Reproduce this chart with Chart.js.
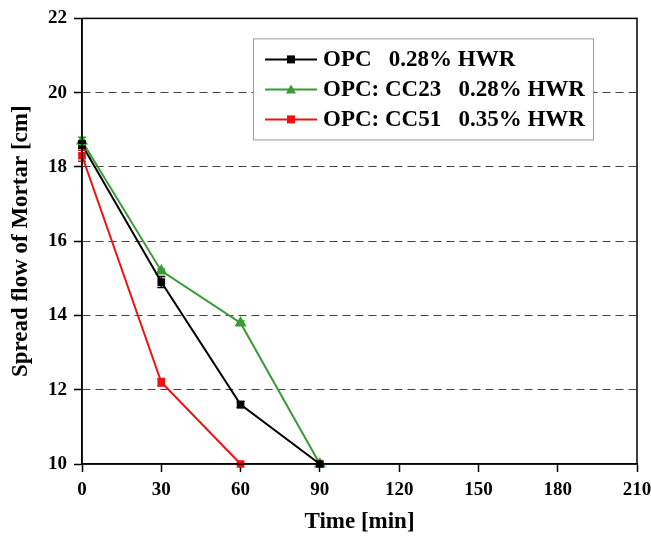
<!DOCTYPE html>
<html>
<head>
<meta charset="utf-8">
<script src="https://cdn.jsdelivr.net/npm/chart.js@4.4.0/dist/chart.umd.min.js"></script>
<style>
  html, body { margin: 0; padding: 0; background: #fff; }
  #wrap { width: 651px; height: 536px; }
</style>
</head>
<body>
<div id="wrap"><canvas id="flowChart" width="651" height="536"></canvas></div>
<script>
// Spread flow data
const timeMin = [0, 30, 60, 90];
const opcFlow = [18.6, 14.9, 11.6, 10.0];
const opcErr = [0.1, 0.15, 0.08, 0];
const cc23Flow = [18.7, 15.2, 13.8, 10.0];
const cc23Err = [0.1, 0.05, 0.05, 0];
const cc51Flow = [18.3, 12.2, 10.0];
const cc51Err = [0.15, 0.1, 0];
const xTicks = [0, 30, 60, 90, 120, 150, 180, 210];
const yTicks = [10, 12, 14, 16, 18, 20, 22];

const serif = '"Liberation Serif", "Times New Roman", serif';

function toPoints(ys) {
    return ys.map((y, i) => ({ x: timeMin[i], y: y }));
}

// frame around the plot area
const framePlugin = {
    id: 'frame',
    afterDraw(chart) {
        const { ctx, chartArea: a } = chart;
        ctx.save();
        ctx.strokeStyle = '#000';
        ctx.lineWidth = 1.5;
        ctx.strokeRect(a.left, a.top, a.right - a.left, a.bottom - a.top);
        ctx.restore();
    }
};

// small vertical error bars
const errorBarPlugin = {
    id: 'errBars',
    afterDatasetsDraw(chart) {
        const ctx = chart.ctx;
        const ys = chart.scales.y;
        chart.data.datasets.forEach((ds, i) => {
            const meta = chart.getDatasetMeta(i);
            ctx.save();
            ctx.strokeStyle = ds.borderColor;
            ctx.lineWidth = 1.5;
            meta.data.forEach((pt, j) => {
                const e = ds.errors[j];
                if (!e) return;
                const top = ys.getPixelForValue(ds.data[j].y + e);
                const bot = ys.getPixelForValue(ds.data[j].y - e);
                ctx.beginPath();
                ctx.moveTo(pt.x, top); ctx.lineTo(pt.x, bot);
                ctx.moveTo(pt.x - 4, top); ctx.lineTo(pt.x + 4, top);
                ctx.moveTo(pt.x - 4, bot); ctx.lineTo(pt.x + 4, bot);
                ctx.stroke();
            });
            ctx.restore();
        });
    }
};

// boxed legend inside the plot
const boxLegendPlugin = {
    id: 'boxLegend',
    afterDraw(chart) {
        const { ctx, chartArea: a } = chart;
        const x0 = a.left + 171, y0 = a.top + 20, w = 340, h = 101;
        ctx.save();
        ctx.fillStyle = '#fff';
        ctx.fillRect(x0, y0, w, h);
        ctx.strokeStyle = '#999';
        ctx.lineWidth = 1;
        ctx.strokeRect(x0 + 0.5, y0 + 0.5, w, h);
        ctx.font = 'bold 23px ' + serif;
        ctx.textBaseline = 'middle';
        chart.data.datasets.forEach((ds, i) => {
            const cy = y0 + 21 + i * 30;
            ctx.strokeStyle = ds.borderColor;
            ctx.lineWidth = 2;
            ctx.beginPath();
            ctx.moveTo(x0 + 12, cy); ctx.lineTo(x0 + 64, cy);
            ctx.stroke();
            ctx.fillStyle = ds.borderColor;
            if (ds.pointStyle === 'triangle') {
                ctx.beginPath();
                ctx.moveTo(x0 + 38, cy - 5);
                ctx.lineTo(x0 + 43, cy + 4);
                ctx.lineTo(x0 + 33, cy + 4);
                ctx.closePath();
                ctx.fill();
            } else {
                ctx.fillRect(x0 + 34, cy - 4, 8, 8);
            }
            ctx.fillStyle = '#000';
            ctx.fillText(ds.label, x0 + 70, cy + 1);
        });
        ctx.restore();
    }
};

function makeSet(label, ys, errs, color, style) {
    return {
        label: label,
        data: toPoints(ys),
        errors: errs,
        borderColor: color,
        backgroundColor: color,
        pointStyle: style,
        pointRadius: style === 'triangle' ? 5 : 4,
        pointHoverRadius: 5,
        borderWidth: 2,
        tension: 0,
        clip: false
    };
}

new Chart(document.getElementById('flowChart'), {
    type: 'line',
    data: {
        datasets: [
            makeSet('OPC   0.28% HWR', opcFlow, opcErr, '#000000', 'rect'),
            makeSet('OPC: CC23   0.28% HWR', cc23Flow, cc23Err, '#3a9a33', 'triangle'),
            makeSet('OPC: CC51   0.35% HWR', cc51Flow, cc51Err, '#ee1111', 'rect')
        ]
    },
    options: {
        responsive: false,
        animation: false,
        layout: { padding: { left: 0, right: 14, top: 18, bottom: 0 } },
        plugins: {
            legend: { display: false },
            tooltip: { enabled: false }
        },
        scales: {
            x: {
                type: 'linear',
                min: 0,
                max: 210,
                afterBuildTicks: s => { s.ticks = xTicks.map(v => ({ value: v })); },
                afterFit: s => { s.height = 72; s.paddingLeft = 0; s.paddingRight = 0; },
                border: { display: true, color: '#000', width: 1.5 },
                grid: {
                    drawOnChartArea: false,
                    drawTicks: true,
                    tickLength: 8,
                    tickColor: '#000',
                    tickWidth: 1.5
                },
                ticks: {
                    color: '#000',
                    padding: 7,
                    font: { family: serif, size: 19, weight: 'bold' }
                },
                title: {
                    display: true,
                    text: 'Time [min]',
                    color: '#000',
                    padding: { top: 13, bottom: 0 },
                    font: { family: serif, size: 23, weight: 'bold' }
                }
            },
            y: {
                min: 10,
                max: 22,
                afterBuildTicks: s => { s.ticks = yTicks.map(v => ({ value: v })); },
                afterFit: s => { s.width = 82; },
                border: { display: true, color: '#000', width: 1.5, dash: [8, 5] },
                grid: {
                    color: c => (c.tick && (c.tick.value === 10 || c.tick.value === 22)) ? 'rgba(0,0,0,0)' : '#444',
                    lineWidth: 1,
                    drawTicks: true,
                    tickLength: 8,
                    tickColor: '#000',
                    tickWidth: 1.5,
                    tickBorderDash: []
                },
                ticks: {
                    color: '#000',
                    padding: 7,
                    font: { family: serif, size: 19, weight: 'bold' }
                },
                title: {
                    display: true,
                    text: 'Spread flow of Mortar [cm]',
                    color: '#000',
                    padding: { top: 7, bottom: 0 },
                    font: { family: serif, size: 23, weight: 'bold' }
                }
            }
        }
    },
    plugins: [framePlugin, errorBarPlugin, boxLegendPlugin]
});
</script>
</body>
</html>
